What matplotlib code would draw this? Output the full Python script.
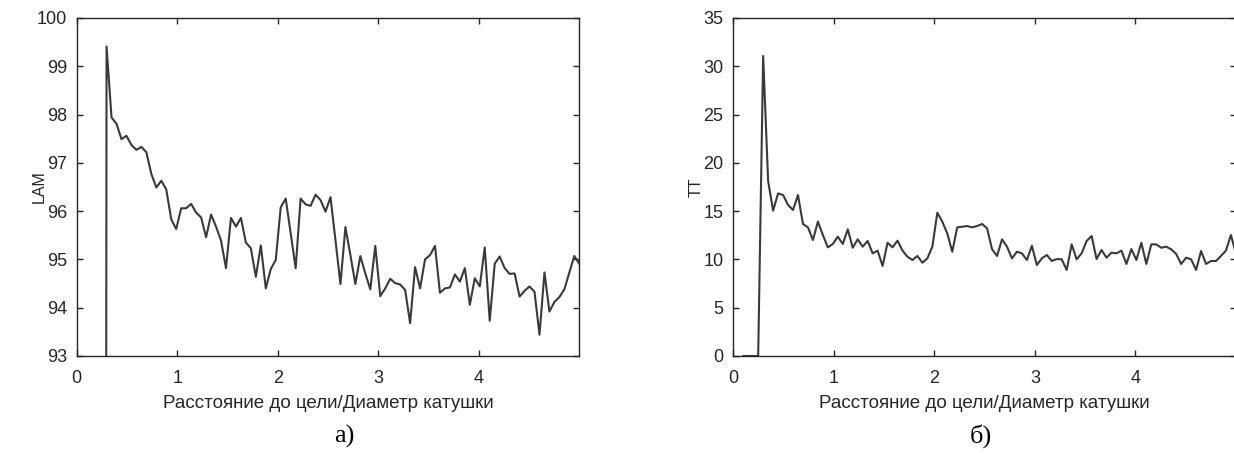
import numpy as np
import matplotlib
matplotlib.use("Agg")
import matplotlib.pyplot as plt

plt.rcParams['font.family'] = ['Liberation Sans', 'DejaVu Sans']

# distance to target in mm, coil diameter 101 mm
distance_mm = np.arange(10, 506, 5)
coil_diameter = 101.0
x = distance_mm / coil_diameter

# laminarity, % (first four points are empty windows)
lam = [0, 0, 0, 0,
       99.41, 97.94, 97.81, 97.49, 97.56, 97.37, 97.27, 97.33, 97.22, 96.77,
       96.49, 96.63, 96.45, 95.83, 95.63, 96.06, 96.06, 96.15, 95.97, 95.87,
       95.46, 95.93, 95.68, 95.39, 94.82, 95.86, 95.68, 95.86, 95.35, 95.23,
       94.64, 95.29, 94.40, 94.80, 94.99, 96.08, 96.26, 95.54, 94.82, 96.26,
       96.14, 96.11, 96.34, 96.23, 95.99, 96.29, 95.40, 94.49, 95.67, 95.09,
       94.49, 95.07, 94.71, 94.38, 95.28, 94.24, 94.40, 94.60, 94.51, 94.48,
       94.37, 93.68, 94.84, 94.40, 95.00, 95.09, 95.28, 94.31, 94.40, 94.42,
       94.69, 94.54, 94.82, 94.06, 94.61, 94.44, 95.25, 93.73, 94.91, 95.06,
       94.82, 94.70, 94.71, 94.23, 94.35, 94.44, 94.33, 93.44, 94.73, 93.92,
       94.12, 94.22, 94.38, 94.73, 95.07, 94.91]

# trapping time
tt = [0, 0, 0, 0,
      31.07, 18.10, 15.05, 16.84, 16.67, 15.64, 15.12, 16.67, 13.67, 13.32,
      12.01, 13.91, 12.53, 11.25, 11.60, 12.36, 11.60, 13.12, 11.21, 12.08,
      11.32, 11.91, 10.63, 10.91, 9.32, 11.73, 11.25, 11.94, 10.91, 10.28,
      9.94, 10.36, 9.66, 10.11, 11.32, 14.84, 13.91, 12.70, 10.80, 13.32,
      13.39, 13.46, 13.32, 13.46, 13.67, 13.22, 11.05, 10.36, 12.08, 11.32,
      10.11, 10.80, 10.63, 9.94, 11.42, 9.42, 10.11, 10.46, 9.84, 10.04,
      10.01, 8.91, 11.56, 10.01, 10.63, 11.91, 12.43, 10.04, 10.98, 10.18,
      10.70, 10.63, 10.91, 9.53, 11.08, 9.94, 11.73, 9.53, 11.56, 11.56,
      11.21, 11.32, 11.05, 10.56, 9.53, 10.18, 10.01, 8.91, 10.87, 9.53,
      9.84, 9.84, 10.36, 10.91, 12.53, 10.60]

xticks = [0, 1, 2, 3, 4]
lam_ticks = [93, 94, 95, 96, 97, 98, 99, 100]
tt_ticks = [0, 5, 10, 15, 20, 25, 30, 35]
xlabel = "Расстояние до цели/Диаметр катушки"

W, H = 1234, 454
fig = plt.figure(figsize=(W / 100, H / 100), dpi=100)

line_col = "#3a3a3a"
axis_col = "#262626"
ax_w, ax_h = 502.6, 338.0


def style_axes(ax, ylabel):
    for s in ax.spines.values():
        s.set_color(axis_col)
        s.set_linewidth(1.0)
    ax.tick_params(direction="in", length=4.5, width=1.0, colors=axis_col,
                   labelsize=13, top=True, right=True)
    ax.tick_params(axis="x", pad=10)
    ax.tick_params(axis="y", pad=7)
    ax.set_xlim(0, 5.0)
    ax.set_xticks(xticks)
    ax.set_xlabel(xlabel, fontsize=13.5, color=axis_col, va="center")
    ax.xaxis.set_label_coords(0.5, -47 / ax_h)
    ax.set_ylabel(ylabel, fontsize=11.5, color=axis_col, va="center")
    ax.yaxis.set_label_coords(-37 / ax_w, 0.5)


ax1 = fig.add_axes([76.7 / W, 98 / H, ax_w / W, ax_h / H])
ax1.plot(x, lam, color=line_col, lw=1.5)
style_axes(ax1, "LAM")
ax1.set_ylim(93, 100)
ax1.set_yticks(lam_ticks)

ax2 = fig.add_axes([733.3 / W, 98 / H, ax_w / W, ax_h / H])
ax2.plot(x, tt, color=line_col, lw=1.5)
style_axes(ax2, "TT")
ax2.set_ylim(0, 35)
ax2.set_yticks(tt_ticks)

fig.text(344 / W, 1 - 436 / H, "а)", family="Liberation Serif", fontsize=19,
         ha="center", va="center", color="black")
fig.text(981 / W, 1 - 436 / H, "б)", family="Liberation Serif", fontsize=19,
         ha="center", va="center", color="black")

fig.savefig("out.png", dpi=100)
